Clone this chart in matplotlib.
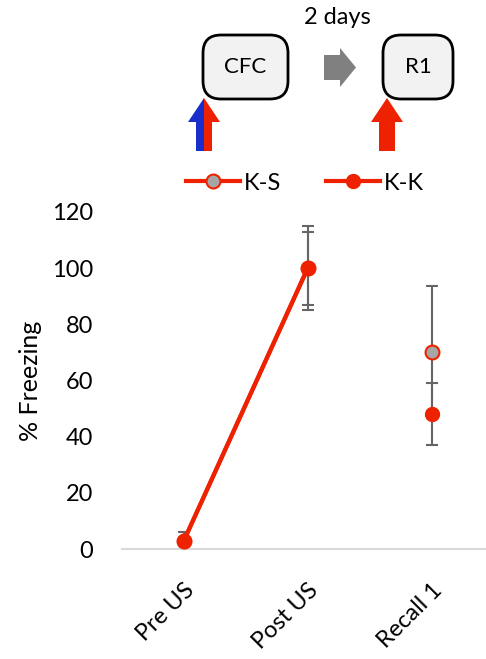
import matplotlib.pyplot as plt
from matplotlib.patches import FancyBboxPatch, Polygon

plt.rcParams['font.family'] = ['Lato', 'DejaVu Sans']

sessions = ['Pre US', 'Post US', 'Recall 1']
ks_mean = [3, 100, 70]
ks_err = [3, 15, 23.5]
kk_mean = [3, 100, 48]
kk_err = [3, 13, 11]

red = '#EE2200'
grey_err = '#666666'

W, H = 486, 659
fig = plt.figure(figsize=(W / 100, H / 100), dpi=100)

# main axes (pixel positions converted to figure fractions)
left, right, bottom, top = 122, 486, 549, 212
ax = fig.add_axes([left / W, 1 - bottom / H, (right - left) / W, (bottom - top) / H])

x = list(range(len(sessions)))

# error bars first, behind the markers
ax.errorbar(x, ks_mean, yerr=ks_err, fmt='none', ecolor=grey_err, elinewidth=1.5,
            capsize=4.5, capthick=1.5, zorder=2)
ax.errorbar(x, kk_mean, yerr=kk_err, fmt='none', ecolor=grey_err, elinewidth=1.5,
            capsize=4.5, capthick=1.5, zorder=2)

# lines only between Pre US and Post US (same session)
l_ks, = ax.plot(x[:2], ks_mean[:2], color=red, lw=3, marker='o', ms=10,
                mfc='#A6A6A6', mec=red, mew=1.5, zorder=3, label='K-S')
ax.plot(x[2:], ks_mean[2:], ls='none', marker='o', ms=10,
        mfc='#A6A6A6', mec=red, mew=1.5, zorder=3)
l_kk, = ax.plot(x[:2], kk_mean[:2], color=red, lw=3, marker='o', ms=10,
                mfc=red, mec=red, zorder=4, label='K-K')
ax.plot(x[2:], kk_mean[2:], ls='none', marker='o', ms=10,
        mfc=red, mec=red, zorder=4)

ax.set_xlim(-0.5, 2.44)
ax.set_ylim(0, 120)
ax.set_yticks(range(0, 121, 20))
ax.set_xticks(x)
ax.set_xticklabels(sessions, rotation=45, ha='right', va='top', rotation_mode='anchor')
ax.tick_params(axis='both', length=0, labelsize=17)
ax.tick_params(axis='y', pad=21)
ax.tick_params(axis='x', pad=22)
for s in ['top', 'right', 'left']:
    ax.spines[s].set_visible(False)
ax.spines['bottom'].set_color('#D9D9D9')
ax.spines['bottom'].set_linewidth(1.5)
ax.set_ylabel('% Freezing', fontsize=18, labelpad=7)
ax.patch.set_visible(False)

fig.legend(handles=[l_ks, l_kk], loc='center', ncol=2, frameon=False, fontsize=17,
           bbox_to_anchor=(305 / W, 1 - 183 / H), handlelength=2.3,
           handletextpad=0.15, columnspacing=1.9)

# schematic on top, drawn in pixel coordinates
ov = fig.add_axes([0, 0, 1, 1])
ov.set_xlim(0, W)
ov.set_ylim(H, 0)
ov.axis('off')

r = 18
for (x0, x1, txt) in [(203, 288, 'CFC'), (383, 453, 'R1')]:
    ov.add_patch(FancyBboxPatch((x0 + r, 35 + r), x1 - x0 - 2 * r, 64 - 2 * r,
                                boxstyle='round,pad=%d' % r, fc='#F2F2F2', ec='black', lw=2))
    ov.text((x0 + x1) / 2, 67, txt, ha='center', va='center', fontsize=16)

ov.add_patch(Polygon([(324, 55), (340, 55), (340, 48), (356, 67.5),
                      (340, 87), (340, 80), (324, 80)], closed=True,
                     fc='#808080', ec='none'))
ov.text(337, 18, '2 days', ha='center', va='center', fontsize=17)

# blue/red arrow under CFC
ov.add_patch(Polygon([(188, 122), (204, 98), (204, 151), (196, 151), (196, 122)],
                     closed=True, fc='#1A2ECC', ec='none'))
ov.add_patch(Polygon([(204, 98), (220, 122), (212, 122), (212, 151), (204, 151)],
                     closed=True, fc=red, ec='none'))
# red arrow under R1
ov.add_patch(Polygon([(371, 122), (387, 98), (403, 122), (395, 122), (395, 151),
                      (379, 151), (379, 122)], closed=True, fc=red, ec='none'))

fig.savefig('out.png', dpi=100)
